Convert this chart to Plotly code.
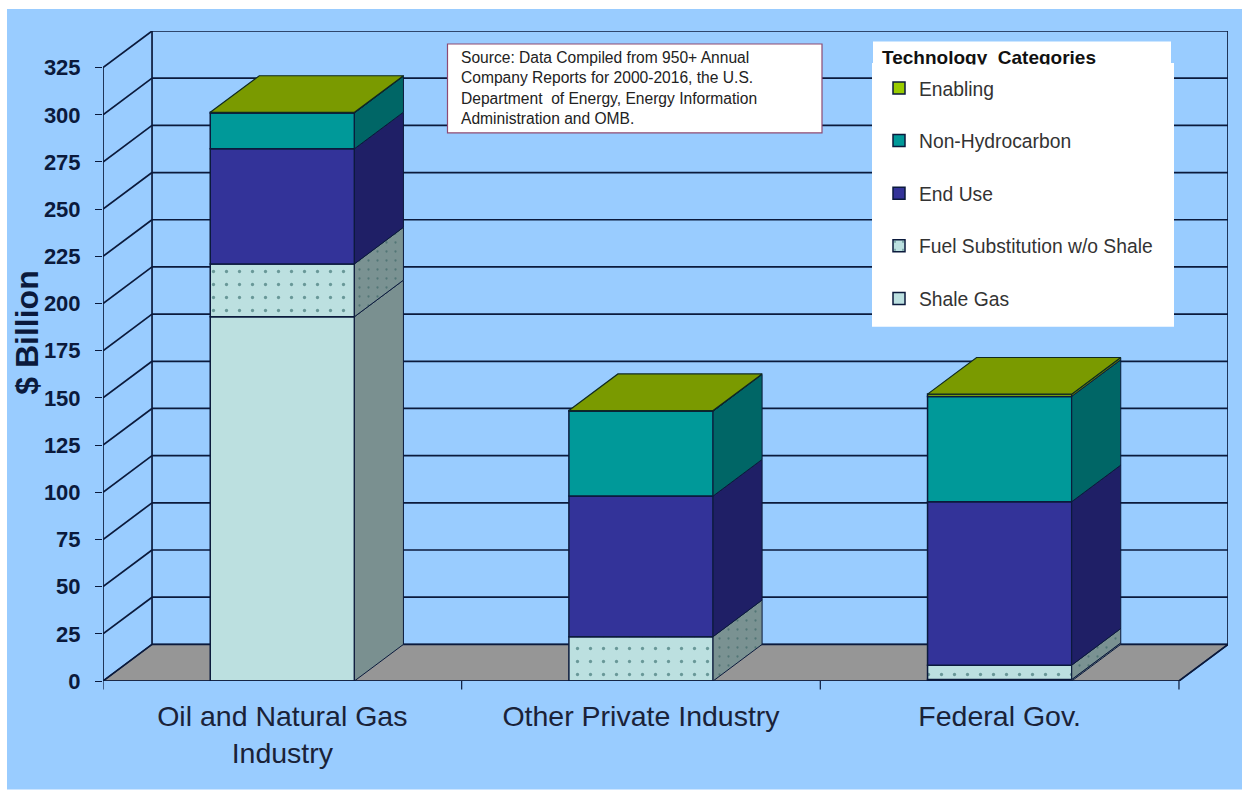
import numpy as np
import plotly.graph_objects as go

categories = ["Oil and Natural Gas<br>Industry", "Other Private Industry", "Federal Gov."]
shale_gas = [193, 0, 0.8]
fuel_substitution = [28, 23.5, 7.6]
end_use = [61, 74.5, 86.6]
non_hydrocarbon = [19, 45, 55.8]
enabling = [0.3, 0.3, 1.2]
y_ticks = list(range(0, 326, 25))

series_names = ["Shale Gas", "Fuel Substitution w/o Shale", "End Use", "Non-Hydrocarbon", "Enabling"]
series_values = [shale_gas, fuel_substitution, end_use, non_hydrocarbon, enabling]
front_colors = ["#BCE0E0", "#BCE0E0", "#333399", "#009999", "#99CC00"]
side_colors = ["#7A9090", "#7A9292", "#1F1F66", "#006666", "#5F7F00"]
TOP_COLOR = "#7A9A00"
BG = "#99CCFF"
FLOOR = "#969696"
INK = "#0B1A3C"
DOT = "#164F4F"

W, H = 1242, 790
L, R, T, B = 103, 14, 31, 108.5
BAR_W = 0.402
DX = 0.1367   # depth of the 3-D box, in category units
DY = 19.4     # depth of the 3-D box, in value units

pw, ph = W - L - R, H - T - B
px = lambda p: (p - L) / pw
py = lambda p: 1 - (p - T) / ph
centers = np.arange(len(categories)) + 0.5
n_cat = len(categories)

fig = go.Figure()
base = np.zeros(n_cat)
for i, (name, vals) in enumerate(zip(series_names, series_values)):
    vals = np.array(vals, dtype=float)
    dotted = name.startswith("Fuel")
    fig.add_trace(go.Bar(
        x=centers, y=vals, base=base, width=BAR_W, name=name, legendgroup=name,
        legendrank=len(series_names) - i,
        marker=dict(color=front_colors[i], line=dict(color=INK, width=1.5),
                    pattern=dict(shape="." if dotted else "", size=13, solidity=0.05,
                                 fgcolor=DOT, bgcolor=front_colors[i])),
        hovertemplate="%{y}<extra>" + name + "</extra>",
    ))
    sx, sy = [], []
    for c, b, v in zip(centers, base, vals):
        if v <= 0:
            continue
        xr = c + BAR_W / 2
        sx += [xr, xr + DX, xr + DX, xr, xr, None]
        sy += [b, b + DY, b + v + DY, b + v, b, None]
    side = dict(x=sx, y=sy, mode="lines", fill="toself", fillcolor=side_colors[i],
                line=dict(color=INK, width=1), showlegend=False, hoverinfo="skip")
    if dotted:
        side["fillpattern"] = dict(shape=".", size=9, solidity=0.05, fgcolor="#2A5A5A",
                                   bgcolor=side_colors[i])
    fig.add_trace(go.Scatter(**side))
    base = base + vals

tx, ty = [], []
for c, h in zip(centers, base):
    xl, xr = c - BAR_W / 2, c + BAR_W / 2
    tx += [xl, xr, xr + DX, xl + DX, xl, None]
    ty += [h, h, h + DY, h + DY, h, None]
fig.add_trace(go.Scatter(x=tx, y=ty, mode="lines", fill="toself", fillcolor=TOP_COLOR,
                         line=dict(color="#0F2A20", width=1.2), showlegend=False, hoverinfo="skip"))

shapes = [
    dict(type="rect", xref="paper", yref="paper", x0=px(7), x1=px(W), y0=py(H), y1=py(9),
         fillcolor=BG, line_width=0, layer="below"),
    dict(type="path", xref="x", yref="y", layer="below", fillcolor=FLOOR,
         line=dict(color=INK, width=1.2),
         path=f"M0,0 L{n_cat},0 L{n_cat + DX},{DY} L{DX},{DY} Z"),
]
line = dict(color=INK, width=1.7)
for v in y_ticks:
    shapes.append(dict(type="line", xref="x", yref="y", x0=DX, x1=n_cat + DX, y0=v + DY, y1=v + DY,
                       line=line, layer="below"))
    shapes.append(dict(type="line", xref="x", yref="y", x0=0, x1=DX, y0=v, y1=v + DY,
                       line=line, layer="below"))
for x0, x1, y0, y1 in [
    (0, 0, 0, y_ticks[-1]),
    (DX, DX, DY, y_ticks[-1] + DY),
    (n_cat + DX, n_cat + DX, DY, y_ticks[-1] + DY),
    (n_cat, n_cat + DX, 0, DY),
]:
    shapes.append(dict(type="line", xref="x", yref="y", x0=x0, x1=x1, y0=y0, y1=y1,
                       line=line, layer="below"))
shapes.append(dict(type="line", xref="x", yref="y", x0=0, x1=n_cat, y0=0, y1=0, line=line, layer="above"))
for k in range(n_cat + 1):
    shapes.append(dict(type="line", xref="x", yref="paper", x0=k, x1=k, y0=py(681.5), y1=py(690),
                       line=dict(color=INK, width=1.2), layer="above"))
# source box
shapes.append(dict(type="rect", xref="paper", yref="paper", x0=px(447.5), x1=px(822), y0=py(133), y1=py(44),
                   fillcolor="white", line=dict(color="#8E4A72", width=1.2), layer="above"))
# white legend panel (narrower heading strip + body)
shapes.append(dict(type="rect", xref="paper", yref="paper", x0=px(873), x1=px(1171), y0=py(63), y1=py(41.5),
                   fillcolor="white", line_width=0, layer="above"))
shapes.append(dict(type="rect", xref="paper", yref="paper", x0=px(872), x1=px(1174), y0=py(327), y1=py(63),
                   fillcolor="white", line_width=0, layer="above"))

annotations = [
    dict(xref="paper", yref="paper", x=px(27), y=py(333), xanchor="center", yanchor="middle",
         text="<b>$ Billion</b>", textangle=-90, showarrow=False,
         font=dict(size=32, color=INK, family="Liberation Sans")),
    dict(xref="paper", yref="paper", x=px(880), y=py(58), xanchor="left", yanchor="middle", showarrow=False,
         text="<b>Technology  Categories</b>", font=dict(size=19, color="#111111", family="Liberation Sans")),
    # white strip that trims the heading's descenders, as the panel does in the source picture
    dict(xref="paper", yref="paper", x=px(878), y=py(64.5), xanchor="left", yanchor="top", showarrow=False,
         text=" ", width=224, height=7, bgcolor="white", borderpad=0, font=dict(size=1)),
    dict(xref="paper", yref="paper", x=px(459), y=py(88), xanchor="left", yanchor="middle", showarrow=False,
         align="left",
         text="Source: Data Compiled from 950+ Annual<br>Company Reports for 2000-2016, the U.S.<br>"
              "Department  of Energy, Energy Information<br>Administration and OMB.",
         font=dict(size=15.6, color="#222222", family="Liberation Sans")),
]

fig.update_layout(
    width=W, height=H, autosize=False, margin=dict(l=L, r=R, t=T, b=B),
    paper_bgcolor="white", plot_bgcolor="rgba(0,0,0,0)", barmode="overlay",
    font=dict(family="Liberation Sans", color=INK),
    shapes=shapes, annotations=annotations,
    xaxis=dict(range=[0, n_cat + DX], tickmode="array", tickvals=centers, ticktext=categories,
               showgrid=False, zeroline=False, showline=False, ticks="outside", ticklen=10,
               tickcolor="rgba(0,0,0,0)", tickfont=dict(size=28.5, color="#1A2238"), fixedrange=True),
    yaxis=dict(range=[0, y_ticks[-1] + DY], tickmode="array", tickvals=y_ticks,
               showgrid=False, zeroline=False, showline=False, ticks="outside", ticklen=7,
               tickcolor=INK, tickwidth=1.2, ticklabelstandoff=10,
               tickfont=dict(size=22, color=INK, weight="bold"), fixedrange=True),
    legend=dict(x=px(879), y=py(69), xanchor="left", yanchor="top", bgcolor="rgba(0,0,0,0)",
                traceorder="grouped", tracegroupgap=24.5,
                font=dict(size=19.3, color="#333333"), itemclick=False, itemdoubleclick=False),
    showlegend=True,
)

fig.write_html("out.html", config=dict(displayModeBar=False),
               post_script="document.body.style.margin='0';document.body.style.overflow='hidden';")
